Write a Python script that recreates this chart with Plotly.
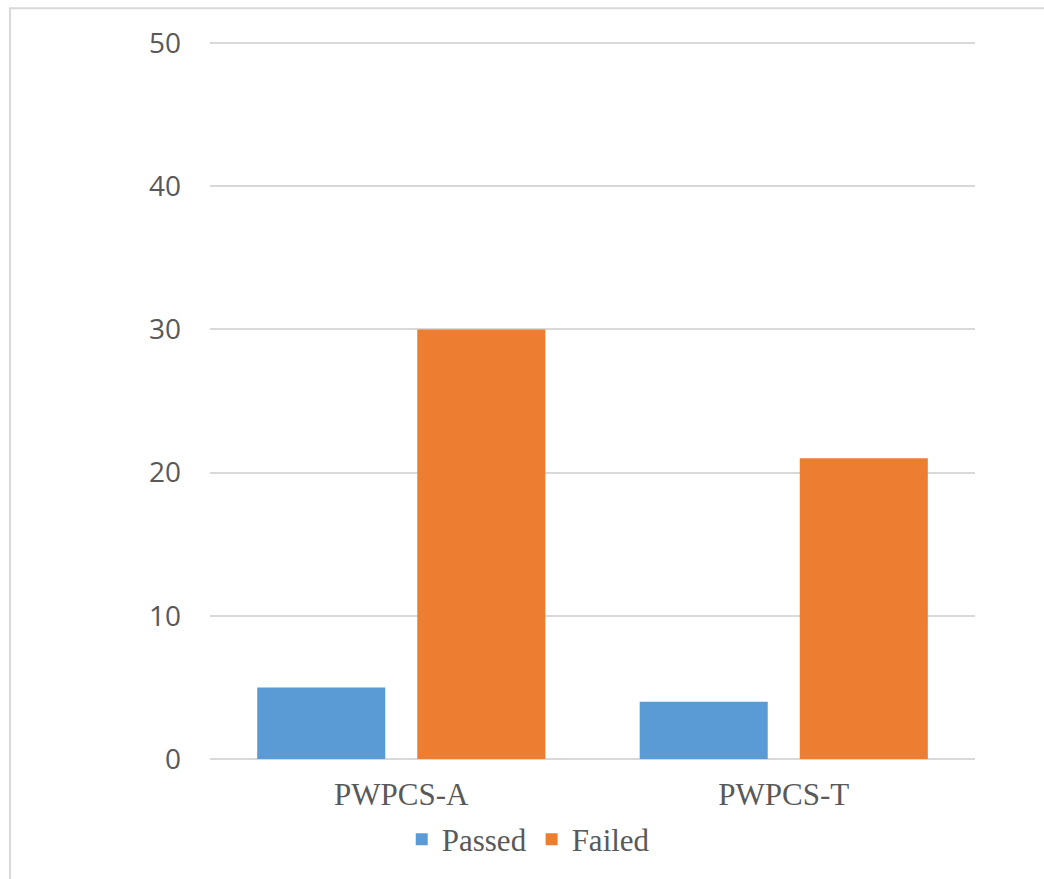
import plotly.graph_objects as go

# Test outcomes per configuration
categories = ["PWPCS-A", "PWPCS-T"]
passed = [5, 4]
failed = [30, 21]
y_ticks = [0, 10, 20, 30, 40, 50]

BLUE = "#5B9BD5"
ORANGE = "#ED7D31"
GRID = "#D9D9D9"
TEXT = "#595959"
SERIF = "Liberation Serif, Times New Roman, serif"

W, H = 1044, 879
L, R, T, B = 210, 69, 41, 117
plot_w = W - L - R
plot_h = H - T - B

fig = go.Figure()
fig.add_trace(go.Bar(name="Passed", x=categories, y=passed, marker_color=BLUE,
                     marker_line_width=0))
fig.add_trace(go.Bar(name="Failed", x=categories, y=failed, marker_color=ORANGE,
                     marker_line_width=0))


def px_x(px):
    return (px - L) / plot_w


def px_y(py):
    return (H - B - py) / plot_h


# Light outer frame of the chart area
fig.add_shape(type="rect", xref="paper", yref="paper",
              x0=px_x(10), x1=px_x(W + 20), y0=px_y(H + 20), y1=px_y(8),
              line=dict(color=GRID, width=2), fillcolor="rgba(0,0,0,0)",
              layer="below")

fig.update_layout(
    width=W, height=H,
    margin=dict(l=L, r=R, t=T, b=B, pad=0),
    paper_bgcolor="white", plot_bgcolor="white",
    font=dict(family=SERIF, color=TEXT),
    barmode="group", bargap=0.163, bargroupgap=0.2,
    showlegend=True,
    legend=dict(orientation="h", x=0.416, xanchor="center", y=px_y(843),
                yanchor="middle",
                font=dict(family=SERIF, size=31, color=TEXT),
                traceorder="normal", itemwidth=30, tracegroupgap=0,
                bgcolor="rgba(0,0,0,0)"),
    xaxis=dict(showgrid=False, showline=False, ticks="", zeroline=False,
               tickfont=dict(family=SERIF, size=31, color=TEXT),
               ticklabelstandoff=14),
    # top of range padded a little so the 50 gridline is kept
    yaxis=dict(range=[0, 50.15], tickvals=y_ticks, showgrid=True, gridcolor=GRID,
               gridwidth=2, zeroline=True, zerolinecolor=GRID, zerolinewidth=2,
               showline=False, ticks="",
               tickfont=dict(family="Open Sans", size=28, color=TEXT),
               ticklabelstandoff=28),
)

fig.write_html("out.html")
